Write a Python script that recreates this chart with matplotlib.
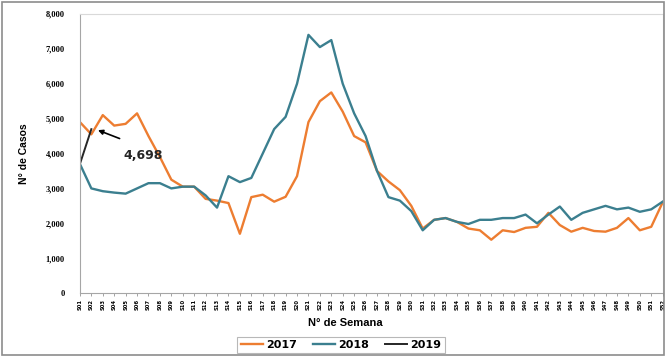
import matplotlib
matplotlib.use("Agg")
import matplotlib.pyplot as plt
from matplotlib.patches import Rectangle
import numpy as np

# casos semanales por año
semanas = ["S%02d" % i for i in range(1, 53)]
casos_2017 = [4900, 4550, 5100, 4800, 4850, 5150, 4500, 3900, 3250, 3050,
              3050, 2700, 2650, 2580, 1700, 2750, 2820, 2620, 2760, 3350,
              4900, 5500, 5750, 5200, 4500, 4320, 3500, 3200, 2950, 2500,
              1850, 2100, 2150, 2040, 1850, 1800, 1530, 1800, 1750, 1870,
              1900, 2300, 1950, 1760, 1870, 1780, 1760, 1870, 2150, 1800,
              1900, 2600]
casos_2018 = [3700, 3000, 2920, 2880, 2850, 3000, 3150, 3150, 3000, 3050,
              3050, 2800, 2450, 3350, 3180, 3300, 4000, 4700, 5050, 6000,
              7400, 7050, 7250, 6000, 5150, 4500, 3500, 2750, 2650, 2350,
              1800, 2100, 2150, 2040, 1980, 2100, 2100, 2150, 2150, 2250,
              2000, 2250, 2480, 2100, 2300, 2400, 2500, 2400, 2450, 2330,
              2400, 2620]
casos_2019 = [3700, 4698]

fig = plt.figure(figsize=(6.66, 3.57), dpi=100)
ax = fig.add_axes([0.120, 0.179, 0.875, 0.782])

x = np.arange(len(semanas))
ax.plot(x, casos_2017, color="#ED7D31", lw=1.7, label="2017", solid_joinstyle="round")
ax.plot(x, casos_2018, color="#3B7F8F", lw=1.7, label="2018", solid_joinstyle="round")
ax.plot(x[:len(casos_2019)], casos_2019, color="#262626", lw=1.4, label="2019")

# etiqueta del último dato 2019
ult = len(casos_2019) - 1
ax.annotate("", xy=(ult + 0.35, casos_2019[ult]), xytext=(3.7, 4400),
            arrowprops=dict(arrowstyle="-|>", color="black", lw=1.2,
                            mutation_scale=7))
ax.text(5.5, 3950, f"{casos_2019[ult]:,}", ha="center", va="center",
        fontsize=9, fontweight="bold", family="DejaVu Sans", color="#262626")

ax.set_xlim(0, len(semanas) - 1)
ax.set_ylim(0, 8000)
ax.set_yticks(range(0, 8001, 1000))
ax.set_yticklabels([f"{v:,}" for v in range(0, 8001, 1000)],
                   fontsize=6, fontweight="bold", family="Liberation Serif")
ax.set_xticks(x)
ax.set_xticklabels(semanas, rotation=90, fontsize=3.8, fontweight="bold")
ax.tick_params(axis="y", length=0, pad=11)
ax.tick_params(axis="x", length=2, width=0.5, color="#7F7F7F", pad=2)

for s in ["top", "right"]:
    ax.spines[s].set_color("#D9D9D9")
    ax.spines[s].set_linewidth(0.8)
for s in ["left", "bottom"]:
    ax.spines[s].set_color("#A6A6A6")
    ax.spines[s].set_linewidth(0.8)

ax.set_ylabel("N° de Casos", fontsize=7.5, fontweight="bold",
              family="Liberation Sans")
ax.yaxis.set_label_coords(-0.088, 0.5)
ax.set_xlabel("N° de Semana", fontsize=8, fontweight="bold",
              family="Liberation Sans")
ax.xaxis.set_label_coords(0.456, -0.09)

leg = fig.legend(loc="center", bbox_to_anchor=(0.512, 0.034), ncol=3,
                 frameon=True, fancybox=False, handlelength=2.0,
                 handletextpad=0.3, columnspacing=1.4, borderpad=0.3,
                 prop=dict(family="DejaVu Sans", weight="bold", size=8))
leg.get_frame().set_edgecolor("#A6A6A6")
leg.get_frame().set_linewidth(0.8)

# marco exterior
fig.patches.append(Rectangle((0.003, 0.005), 0.994, 0.99,
                             transform=fig.transFigure, fill=False,
                             edgecolor="#8C8C8C", lw=1.2))

fig.savefig("out.png", dpi=100)
